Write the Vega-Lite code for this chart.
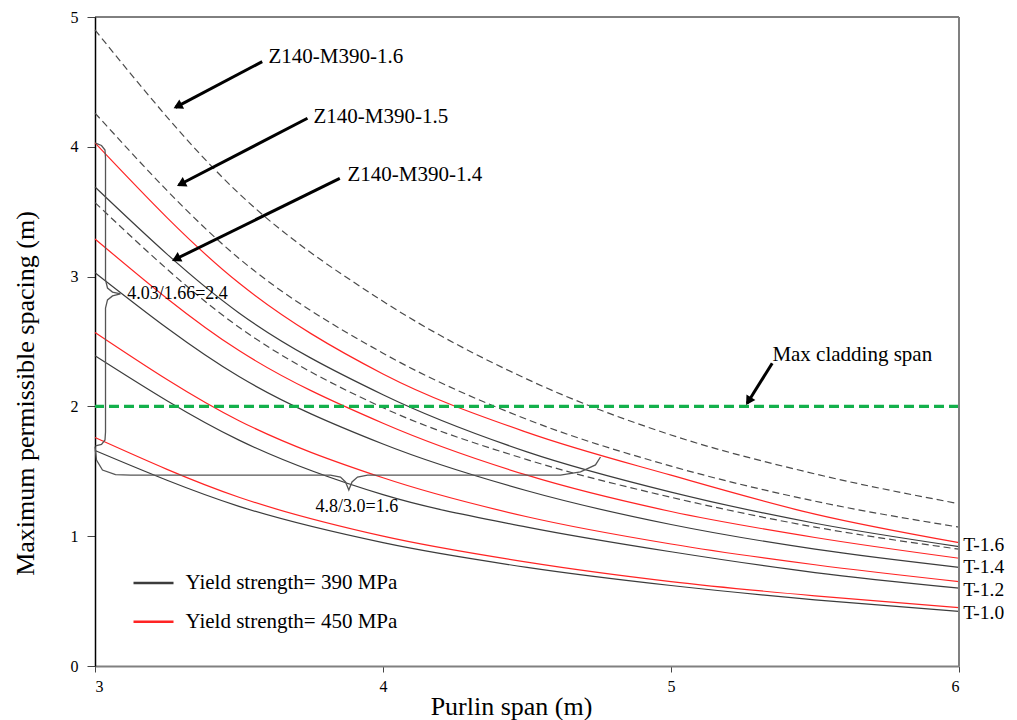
{
  "$schema": "https://vega.github.io/schema/vega-lite/v6.json",
  "width": 864,
  "height": 649,
  "autosize": {"type": "none"},
  "padding": {"left": 95, "top": 17, "right": 58, "bottom": 54},
  "background": "white",
  "config": {
    "font": "Liberation Serif",
    "view": {"stroke": null},
    "axis": {"grid": false, "labelFont": "Liberation Serif", "titleFont": "Liberation Serif", "labelColor": "black", "titleColor": "black", "titleFontWeight": "normal", "labelFontSize": 16, "titleFontSize": 26},
    "axisX": {"domainColor": "#808080", "domainWidth": 2, "tickColor": "#444", "tickSize": 6, "labelPadding": 6, "titleX": 416, "titleY": 40, "titleAlign": "center", "titleBaseline": "middle"},
    "axisY": {"domainColor": "black", "domainWidth": 1.5, "tickColor": "#444", "tickSize": 8, "labelPadding": 9, "titleX": -70, "titleY": 376, "titleAlign": "center", "titleBaseline": "middle", "titleAngle": -90}
  },
  "datasets": {
    "curves": [
      {"id": "Z-1.6", "kind": "Z", "grade": "390 MPa", "x": 3, "y": 4.90},
      {"id": "Z-1.6", "kind": "Z", "grade": "390 MPa", "x": 3.5, "y": 3.64},
      {"id": "Z-1.6", "kind": "Z", "grade": "390 MPa", "x": 4, "y": 2.81},
      {"id": "Z-1.6", "kind": "Z", "grade": "390 MPa", "x": 4.5, "y": 2.21},
      {"id": "Z-1.6", "kind": "Z", "grade": "390 MPa", "x": 5, "y": 1.78},
      {"id": "Z-1.6", "kind": "Z", "grade": "390 MPa", "x": 5.5, "y": 1.48},
      {"id": "Z-1.6", "kind": "Z", "grade": "390 MPa", "x": 6, "y": 1.25},
      {"id": "Z-1.5", "kind": "Z", "grade": "390 MPa", "x": 3, "y": 4.26},
      {"id": "Z-1.5", "kind": "Z", "grade": "390 MPa", "x": 3.5, "y": 3.14},
      {"id": "Z-1.5", "kind": "Z", "grade": "390 MPa", "x": 4, "y": 2.41},
      {"id": "Z-1.5", "kind": "Z", "grade": "390 MPa", "x": 4.5, "y": 1.90},
      {"id": "Z-1.5", "kind": "Z", "grade": "390 MPa", "x": 5, "y": 1.54},
      {"id": "Z-1.5", "kind": "Z", "grade": "390 MPa", "x": 5.5, "y": 1.27},
      {"id": "Z-1.5", "kind": "Z", "grade": "390 MPa", "x": 6, "y": 1.07},
      {"id": "Z-1.4", "kind": "Z", "grade": "390 MPa", "x": 3, "y": 3.57},
      {"id": "Z-1.4", "kind": "Z", "grade": "390 MPa", "x": 3.5, "y": 2.61},
      {"id": "Z-1.4", "kind": "Z", "grade": "390 MPa", "x": 4, "y": 1.99},
      {"id": "Z-1.4", "kind": "Z", "grade": "390 MPa", "x": 4.5, "y": 1.59},
      {"id": "Z-1.4", "kind": "Z", "grade": "390 MPa", "x": 5, "y": 1.30},
      {"id": "Z-1.4", "kind": "Z", "grade": "390 MPa", "x": 5.5, "y": 1.07},
      {"id": "Z-1.4", "kind": "Z", "grade": "390 MPa", "x": 6, "y": 0.90},
      {"id": "T-1.6/450", "kind": "T", "grade": "450 MPa", "x": 3, "y": 4.03},
      {"id": "T-1.6/450", "kind": "T", "grade": "450 MPa", "x": 3.5, "y": 2.95},
      {"id": "T-1.6/450", "kind": "T", "grade": "450 MPa", "x": 4, "y": 2.25},
      {"id": "T-1.6/450", "kind": "T", "grade": "450 MPa", "x": 4.5, "y": 1.80},
      {"id": "T-1.6/450", "kind": "T", "grade": "450 MPa", "x": 5, "y": 1.47},
      {"id": "T-1.6/450", "kind": "T", "grade": "450 MPa", "x": 5.5, "y": 1.17},
      {"id": "T-1.6/450", "kind": "T", "grade": "450 MPa", "x": 6, "y": 0.95},
      {"id": "T-1.6/390", "kind": "T", "grade": "390 MPa", "x": 3, "y": 3.69},
      {"id": "T-1.6/390", "kind": "T", "grade": "390 MPa", "x": 3.5, "y": 2.72},
      {"id": "T-1.6/390", "kind": "T", "grade": "390 MPa", "x": 4, "y": 2.09},
      {"id": "T-1.6/390", "kind": "T", "grade": "390 MPa", "x": 4.5, "y": 1.65},
      {"id": "T-1.6/390", "kind": "T", "grade": "390 MPa", "x": 5, "y": 1.34},
      {"id": "T-1.6/390", "kind": "T", "grade": "390 MPa", "x": 5.5, "y": 1.10},
      {"id": "T-1.6/390", "kind": "T", "grade": "390 MPa", "x": 6, "y": 0.92},
      {"id": "T-1.4/450", "kind": "T", "grade": "450 MPa", "x": 3, "y": 3.29},
      {"id": "T-1.4/450", "kind": "T", "grade": "450 MPa", "x": 3.5, "y": 2.43},
      {"id": "T-1.4/450", "kind": "T", "grade": "450 MPa", "x": 4, "y": 1.87},
      {"id": "T-1.4/450", "kind": "T", "grade": "450 MPa", "x": 4.5, "y": 1.47},
      {"id": "T-1.4/450", "kind": "T", "grade": "450 MPa", "x": 5, "y": 1.19},
      {"id": "T-1.4/450", "kind": "T", "grade": "450 MPa", "x": 5.5, "y": 0.99},
      {"id": "T-1.4/450", "kind": "T", "grade": "450 MPa", "x": 6, "y": 0.83},
      {"id": "T-1.4/390", "kind": "T", "grade": "390 MPa", "x": 3, "y": 3.03},
      {"id": "T-1.4/390", "kind": "T", "grade": "390 MPa", "x": 3.5, "y": 2.23},
      {"id": "T-1.4/390", "kind": "T", "grade": "390 MPa", "x": 4, "y": 1.71},
      {"id": "T-1.4/390", "kind": "T", "grade": "390 MPa", "x": 4.5, "y": 1.35},
      {"id": "T-1.4/390", "kind": "T", "grade": "390 MPa", "x": 5, "y": 1.09},
      {"id": "T-1.4/390", "kind": "T", "grade": "390 MPa", "x": 5.5, "y": 0.90},
      {"id": "T-1.4/390", "kind": "T", "grade": "390 MPa", "x": 6, "y": 0.76},
      {"id": "T-1.2/450", "kind": "T", "grade": "450 MPa", "x": 3, "y": 2.57},
      {"id": "T-1.2/450", "kind": "T", "grade": "450 MPa", "x": 3.5, "y": 1.89},
      {"id": "T-1.2/450", "kind": "T", "grade": "450 MPa", "x": 4, "y": 1.45},
      {"id": "T-1.2/450", "kind": "T", "grade": "450 MPa", "x": 4.5, "y": 1.15},
      {"id": "T-1.2/450", "kind": "T", "grade": "450 MPa", "x": 5, "y": 0.94},
      {"id": "T-1.2/450", "kind": "T", "grade": "450 MPa", "x": 5.5, "y": 0.78},
      {"id": "T-1.2/450", "kind": "T", "grade": "450 MPa", "x": 6, "y": 0.65},
      {"id": "T-1.2/390", "kind": "T", "grade": "390 MPa", "x": 3, "y": 2.39},
      {"id": "T-1.2/390", "kind": "T", "grade": "390 MPa", "x": 3.5, "y": 1.74},
      {"id": "T-1.2/390", "kind": "T", "grade": "390 MPa", "x": 4, "y": 1.32},
      {"id": "T-1.2/390", "kind": "T", "grade": "390 MPa", "x": 4.5, "y": 1.07},
      {"id": "T-1.2/390", "kind": "T", "grade": "390 MPa", "x": 5, "y": 0.88},
      {"id": "T-1.2/390", "kind": "T", "grade": "390 MPa", "x": 5.5, "y": 0.72},
      {"id": "T-1.2/390", "kind": "T", "grade": "390 MPa", "x": 6, "y": 0.60},
      {"id": "T-1.0/450", "kind": "T", "grade": "450 MPa", "x": 3, "y": 1.76},
      {"id": "T-1.0/450", "kind": "T", "grade": "450 MPa", "x": 3.5, "y": 1.30},
      {"id": "T-1.0/450", "kind": "T", "grade": "450 MPa", "x": 4, "y": 1.00},
      {"id": "T-1.0/450", "kind": "T", "grade": "450 MPa", "x": 4.5, "y": 0.80},
      {"id": "T-1.0/450", "kind": "T", "grade": "450 MPa", "x": 5, "y": 0.65},
      {"id": "T-1.0/450", "kind": "T", "grade": "450 MPa", "x": 5.5, "y": 0.54},
      {"id": "T-1.0/450", "kind": "T", "grade": "450 MPa", "x": 6, "y": 0.45},
      {"id": "T-1.0/390", "kind": "T", "grade": "390 MPa", "x": 3, "y": 1.66},
      {"id": "T-1.0/390", "kind": "T", "grade": "390 MPa", "x": 3.5, "y": 1.23},
      {"id": "T-1.0/390", "kind": "T", "grade": "390 MPa", "x": 4, "y": 0.95},
      {"id": "T-1.0/390", "kind": "T", "grade": "390 MPa", "x": 4.5, "y": 0.76},
      {"id": "T-1.0/390", "kind": "T", "grade": "390 MPa", "x": 5, "y": 0.62},
      {"id": "T-1.0/390", "kind": "T", "grade": "390 MPa", "x": 5.5, "y": 0.51},
      {"id": "T-1.0/390", "kind": "T", "grade": "390 MPa", "x": 6, "y": 0.42}
    ],
    "refs": [
      {"ref": "cladding", "y": 2}
    ],
    "braces": [
      {"b": "v", "i": 0, "x": 3.0017, "y": 4.029},
      {"b": "v", "i": 1, "x": 3.0226, "y": 4.010},
      {"b": "v", "i": 2, "x": 3.0347, "y": 3.975},
      {"b": "v", "i": 3, "x": 3.0365, "y": 3.914},
      {"b": "v", "i": 4, "x": 3.0365, "y": 2.974},
      {"b": "v", "i": 5, "x": 3.0434, "y": 2.912},
      {"b": "v", "i": 6, "x": 3.0608, "y": 2.881},
      {"b": "v", "i": 7, "x": 3.0885, "y": 2.866},
      {"b": "v", "i": 8, "x": 3.0608, "y": 2.851},
      {"b": "v", "i": 9, "x": 3.0434, "y": 2.820},
      {"b": "v", "i": 10, "x": 3.0365, "y": 2.758},
      {"b": "v", "i": 11, "x": 3.0365, "y": 1.803},
      {"b": "v", "i": 12, "x": 3.0347, "y": 1.741},
      {"b": "v", "i": 13, "x": 3.0226, "y": 1.707},
      {"b": "v", "i": 14, "x": 3.0017, "y": 1.695},
      {"b": "h", "i": 0, "x": 3.0, "y": 1.690},
      {"b": "h", "i": 1, "x": 3.0052, "y": 1.587},
      {"b": "h", "i": 2, "x": 3.026, "y": 1.510},
      {"b": "h", "i": 3, "x": 3.0712, "y": 1.475},
      {"b": "h", "i": 4, "x": 3.1233, "y": 1.471},
      {"b": "h", "i": 5, "x": 3.8177, "y": 1.471},
      {"b": "h", "i": 6, "x": 3.8524, "y": 1.456},
      {"b": "h", "i": 7, "x": 3.8698, "y": 1.418},
      {"b": "h", "i": 8, "x": 3.8813, "y": 1.356},
      {"b": "h", "i": 9, "x": 3.8924, "y": 1.418},
      {"b": "h", "i": 10, "x": 3.9115, "y": 1.456},
      {"b": "h", "i": 11, "x": 3.9462, "y": 1.471},
      {"b": "h", "i": 12, "x": 4.6163, "y": 1.471},
      {"b": "h", "i": 13, "x": 4.6858, "y": 1.495},
      {"b": "h", "i": 14, "x": 4.7378, "y": 1.549},
      {"b": "h", "i": 15, "x": 4.7552, "y": 1.610}
    ],
    "arrows": [
      {"a": "Z140-M390-1.6", "x": 3.5806, "y": 4.656, "x2": 3.2795, "y2": 4.304, "hx": 3.2917, "hy": 4.318},
      {"a": "Z140-M390-1.5", "x": 3.7378, "y": 4.220, "x2": 3.291, "y2": 3.706, "hx": 3.3035, "hy": 3.720},
      {"a": "Z140-M390-1.4", "x": 3.850, "y": 3.757, "x2": 3.2736, "y2": 3.128, "hx": 3.2861, "hy": 3.142},
      {"a": "Max cladding span", "x": 5.3514, "y": 2.332, "x2": 5.2646, "y2": 2.024, "hx": 5.2719, "hy": 2.050}
    ],
    "labels": [
      {"role": "arrow", "x": 3.6024, "y": 4.692, "text": "Z140-M390-1.6"},
      {"role": "arrow", "x": 3.7587, "y": 4.232, "text": "Z140-M390-1.5"},
      {"role": "arrow", "x": 3.8767, "y": 3.783, "text": "Z140-M390-1.4"},
      {"role": "arrow", "x": 5.352, "y": 2.396, "text": "Max cladding span"},
      {"role": "brace", "x": 3.1118, "y": 2.866, "text": "4.03/1.66=2.4"},
      {"role": "brace", "x": 3.7656, "y": 1.227, "text": "4.8/3.0=1.6"},
      {"role": "section", "x": 6.0145, "y": 0.93, "text": "T-1.6"},
      {"role": "section", "x": 6.0145, "y": 0.765, "text": "T-1.4"},
      {"role": "section", "x": 6.0145, "y": 0.585, "text": "T-1.2"},
      {"role": "section", "x": 6.0145, "y": 0.41, "text": "T-1.0"},
      {"role": "legend", "x": 3.314, "y": 0.639, "text": "Yield strength= 390 MPa"},
      {"role": "legend", "x": 3.314, "y": 0.341, "text": "Yield strength= 450 MPa"}
    ],
    "legend": [
      {"grade": "390 MPa", "x": 3.1337, "x2": 3.2726, "y": 0.639},
      {"grade": "450 MPa", "x": 3.1337, "x2": 3.2726, "y": 0.341}
    ]
  },
  "layer": [
    {
      "data": {"name": "curves"},
      "transform": [{"filter": "datum.kind === 'T'"}],
      "mark": {"type": "line", "interpolate": "monotone", "strokeWidth": 1.2},
      "encoding": {
        "x": {"field": "x", "type": "quantitative", "scale": {"domain": [3, 6], "nice": false, "zero": false}, "title": "Purlin span (m)", "axis": {"values": [3, 4, 5, 6], "format": "d"}},
        "y": {"field": "y", "type": "quantitative", "scale": {"domain": [0, 5], "nice": false}, "title": "Maximum permissible spacing (m)", "axis": {"values": [0, 1, 2, 3, 4, 5], "format": "d"}},
        "color": {"field": "grade", "type": "nominal", "scale": {"domain": ["390 MPa", "450 MPa"], "range": ["#3c3c3c", "#ff2424"]}, "legend": null},
        "detail": {"field": "id"}
      }
    },
    {
      "data": {"name": "curves"},
      "transform": [{"filter": "datum.kind === 'Z'"}],
      "mark": {"type": "line", "interpolate": "monotone", "strokeWidth": 1.2, "color": "#4a4a4a", "strokeDash": [7, 4]},
      "encoding": {
        "x": {"field": "x", "type": "quantitative", "title": "Purlin span (m)"},
        "y": {"field": "y", "type": "quantitative", "title": "Maximum permissible spacing (m)"},
        "detail": {"field": "id"}
      }
    },
    {
      "data": {"name": "refs"},
      "mark": {"type": "rule", "color": "#13b04b", "strokeWidth": 3.2, "strokeDash": [10, 5]},
      "encoding": {"y": {"field": "y", "type": "quantitative", "title": "Maximum permissible spacing (m)"}}
    },
    {
      "data": {"values": [{}]},
      "mark": {"type": "rule", "color": "black", "strokeWidth": 1},
      "encoding": {"y": {"datum": 5}}
    },
    {
      "data": {"values": [{}]},
      "mark": {"type": "rule", "color": "#808080", "strokeWidth": 2},
      "encoding": {"x": {"datum": 6}}
    },
    {
      "data": {"name": "braces"},
      "mark": {"type": "line", "color": "#555", "strokeWidth": 1.3, "interpolate": "linear"},
      "encoding": {
        "x": {"field": "x", "type": "quantitative", "title": "Purlin span (m)"},
        "y": {"field": "y", "type": "quantitative", "title": "Maximum permissible spacing (m)"},
        "detail": {"field": "b"},
        "order": {"field": "i", "type": "quantitative"}
      }
    },
    {
      "data": {"name": "arrows"},
      "mark": {"type": "rule", "color": "black", "strokeWidth": 3},
      "encoding": {
        "x": {"field": "x", "type": "quantitative", "title": "Purlin span (m)"},
        "y": {"field": "y", "type": "quantitative", "title": "Maximum permissible spacing (m)"},
        "x2": {"field": "x2"},
        "y2": {"field": "y2"}
      }
    },
    {
      "data": {"name": "arrows"},
      "transform": [{"filter": "datum.a !== 'Max cladding span'"}],
      "mark": {"type": "point", "shape": "triangle", "filled": true, "color": "black", "size": 110, "angle": 243, "opacity": 1},
      "encoding": {
        "x": {"field": "hx", "type": "quantitative", "title": "Purlin span (m)"},
        "y": {"field": "hy", "type": "quantitative", "title": "Maximum permissible spacing (m)"}
      }
    },
    {
      "data": {"name": "arrows"},
      "transform": [{"filter": "datum.a === 'Max cladding span'"}],
      "mark": {"type": "point", "shape": "triangle", "filled": true, "color": "black", "size": 110, "angle": 212, "opacity": 1},
      "encoding": {
        "x": {"field": "hx", "type": "quantitative", "title": "Purlin span (m)"},
        "y": {"field": "hy", "type": "quantitative", "title": "Maximum permissible spacing (m)"}
      }
    },
    {
      "data": {"name": "legend"},
      "mark": {"type": "rule", "strokeWidth": 2.5},
      "encoding": {
        "x": {"field": "x", "type": "quantitative", "title": "Purlin span (m)"},
        "x2": {"field": "x2"},
        "y": {"field": "y", "type": "quantitative", "title": "Maximum permissible spacing (m)"},
        "color": {"field": "grade", "type": "nominal", "legend": null}
      }
    },
    {
      "data": {"name": "labels"},
      "transform": [{"filter": "datum.role === 'arrow'"}],
      "mark": {"type": "text", "align": "left", "baseline": "middle", "font": "Liberation Serif", "fontSize": 21, "color": "black"},
      "encoding": {
        "x": {"field": "x", "type": "quantitative", "title": "Purlin span (m)"},
        "y": {"field": "y", "type": "quantitative", "title": "Maximum permissible spacing (m)"},
        "text": {"field": "text"}
      }
    },
    {
      "data": {"name": "labels"},
      "transform": [{"filter": "datum.role === 'section'"}],
      "mark": {"type": "text", "align": "left", "baseline": "middle", "font": "Liberation Serif", "fontSize": 19.5, "color": "black"},
      "encoding": {
        "x": {"field": "x", "type": "quantitative", "title": "Purlin span (m)"},
        "y": {"field": "y", "type": "quantitative", "title": "Maximum permissible spacing (m)"},
        "text": {"field": "text"}
      }
    },
    {
      "data": {"name": "labels"},
      "transform": [{"filter": "datum.role === 'legend'"}],
      "mark": {"type": "text", "align": "left", "baseline": "middle", "font": "Liberation Serif", "fontSize": 21, "color": "black"},
      "encoding": {
        "x": {"field": "x", "type": "quantitative", "title": "Purlin span (m)"},
        "y": {"field": "y", "type": "quantitative", "title": "Maximum permissible spacing (m)"},
        "text": {"field": "text"}
      }
    },
    {
      "data": {"name": "labels"},
      "transform": [{"filter": "datum.role === 'brace'"}],
      "mark": {"type": "text", "align": "left", "baseline": "middle", "font": "Liberation Serif", "fontSize": 18, "color": "black"},
      "encoding": {
        "x": {"field": "x", "type": "quantitative", "title": "Purlin span (m)"},
        "y": {"field": "y", "type": "quantitative", "title": "Maximum permissible spacing (m)"},
        "text": {"field": "text"}
      }
    }
  ]
}
